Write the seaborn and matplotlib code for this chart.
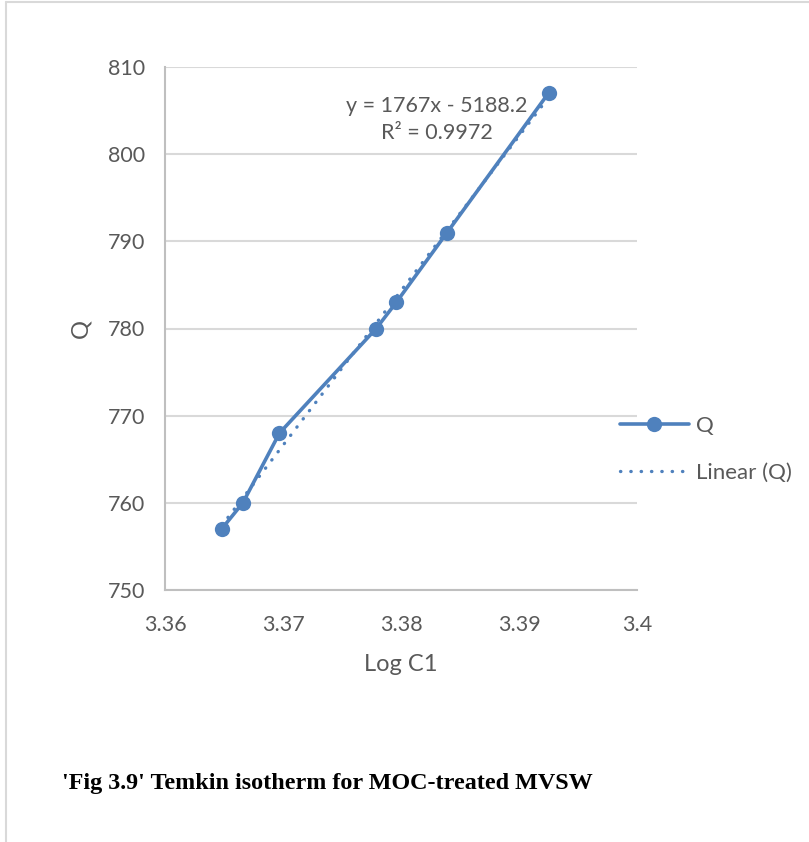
import matplotlib
matplotlib.use("Agg")
import matplotlib.pyplot as plt
import seaborn as sns
import pandas as pd
import numpy as np
from matplotlib.lines import Line2D

# ---- data ----
log_c1 = [3.3648, 3.3666, 3.3697, 3.3779, 3.3796, 3.3839, 3.3925]
q_vals = [757, 760, 768, 780, 783, 791, 807]
x_ticks = [3.36, 3.37, 3.38, 3.39, 3.40]
x_tick_labels = ["3.36", "3.37", "3.38", "3.39", "3.4"]
y_ticks = [750, 760, 770, 780, 790, 800, 810]
equation_text = "y = 1767x - 5188.2\nR² = 0.9972"
caption = "'Fig 3.9' Temkin isotherm for MOC-treated MVSW"

df = pd.DataFrame({"Log C1": log_c1, "Q": q_vals})

sns.set_theme(style="white")
plt.rcParams["font.family"] = ["Lato", "DejaVu Sans"]

W, H = 809, 842
fig = plt.figure(figsize=(W / 100, H / 100), dpi=100)
ax = fig.add_axes([165 / W, 1 - 590 / H, (637 - 165) / W, (590 - 67) / H])

blue = "#4f81bd"
gray_txt = "#595959"
grid_c = "#d9d9d9"

sns.regplot(data=df, x="Log C1", y="Q", ax=ax, scatter=False, ci=None,
            truncate=True, color=blue,
            line_kws=dict(linestyle=(0, (0.1, 3.0)), lw=2.4,
                          dash_capstyle="round", zorder=4))
sns.lineplot(data=df, x="Log C1", y="Q", ax=ax, color=blue, lw=2.6,
             marker="o", markersize=11, markeredgewidth=0, zorder=3)

ax.set_xlim(3.36, 3.40)
ax.set_ylim(750, 810)
ax.set_xticks(x_ticks)
ax.set_xticklabels(x_tick_labels)
ax.set_yticks(y_ticks)
ax.yaxis.grid(True, color=grid_c, lw=1.5)
ax.xaxis.grid(False)
for s in ["top", "right"]:
    ax.spines[s].set_visible(False)
for s in ["left", "bottom"]:
    ax.spines[s].set_color("#bfbfbf")
    ax.spines[s].set_linewidth(1.5)
ax.tick_params(axis="both", length=0, labelsize=15.5, labelcolor=gray_txt)
ax.tick_params(axis="x", pad=18)
ax.tick_params(axis="y", pad=14)
ax.set_xlabel("Log C1", fontsize=17, color=gray_txt, labelpad=14)
ax.set_ylabel("Q", fontsize=17, color=gray_txt, labelpad=12)

ax.text(0.575, 0.9, equation_text, transform=ax.transAxes, ha="center",
        va="center", fontsize=15.5, color=gray_txt, linespacing=1.45)

handles = [Line2D([], [], color=blue, lw=2.6, marker="o", markersize=11,
                  markeredgewidth=0),
           Line2D([], [], color=blue, lw=2.4, linestyle=(0, (0.1, 3.0)),
                  dash_capstyle="round")]
fig.legend(handles, ["Q", "Linear (Q)"], loc="upper left",
           bbox_to_anchor=(620 / W, 1 - 416 / H), frameon=False,
           fontsize=16, labelcolor=gray_txt, handlelength=3.1,
           handletextpad=0.3, labelspacing=1.2, borderpad=0,
           borderaxespad=0)

fig.text(62 / W, 1 - 784 / H, caption, ha="left", va="center",
         fontsize=17.4, fontweight="bold",
         family=["Liberation Serif", "DejaVu Serif"], color="black")

# page border lines
fig.add_artist(Line2D([5.5 / W, 5.5 / W], [0, 1 - 2 / H], color=grid_c,
                      lw=1.5, transform=fig.transFigure))
fig.add_artist(Line2D([5.5 / W, 1], [1 - 2 / H, 1 - 2 / H], color=grid_c,
                      lw=1.5, transform=fig.transFigure))

fig.savefig("out.png", dpi=100, facecolor="white")
